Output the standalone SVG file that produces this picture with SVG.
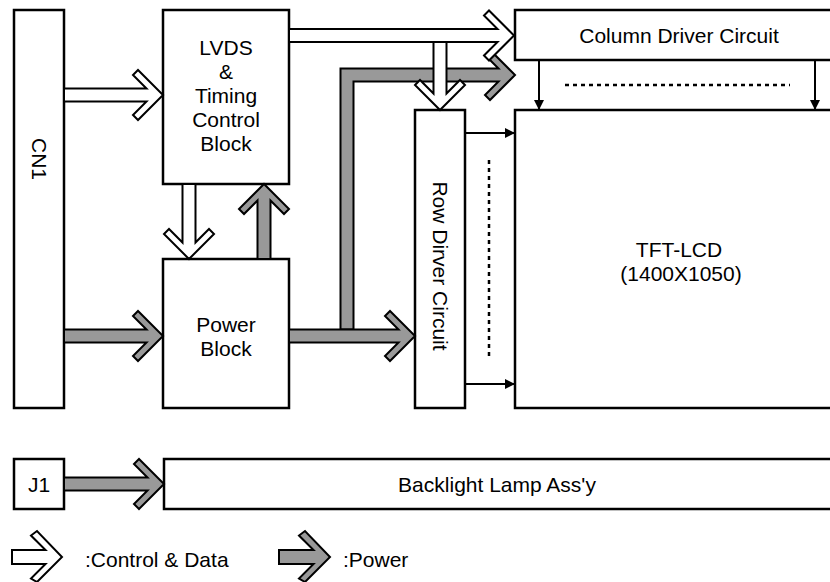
<svg xmlns="http://www.w3.org/2000/svg" width="830" height="582" viewBox="0 0 830 582">
<style>
.box{fill:#fff;stroke:#000;stroke-width:2.5}
.t{font-family:"Liberation Sans",Arial,sans-serif;font-size:21px;fill:#000;text-anchor:middle}
.tl{font-family:"Liberation Sans",Arial,sans-serif;font-size:21px;fill:#000}
.wa{fill:#fff;stroke:#000;stroke-width:2;stroke-linejoin:miter}
.ga{fill:#999;stroke:#000;stroke-width:2;stroke-linejoin:miter}
.thin{stroke:#000;stroke-width:2;fill:none}
.dot{stroke:#000;stroke-width:2.5;fill:none;stroke-dasharray:4 4}
</style>
<defs>
<marker id="ah" markerUnits="userSpaceOnUse" markerWidth="10" markerHeight="10" refX="10" refY="5" orient="auto">
<path d="M0,0 L10,5 L0,10 z" fill="#000"/>
</marker>
</defs>
<rect width="830" height="582" fill="#fff"/>
<g id="cn1"><rect class="box" x="14" y="10" width="50" height="398"/><text class="t" transform="translate(39,159) rotate(90)" y="7.5">CN1</text></g>
<g id="lvds"><rect class="box" x="163" y="10" width="126" height="174"/>
<text class="t" x="226" y="55">LVDS</text><text class="t" x="226" y="79">&amp;</text><text class="t" x="226" y="103">Timing</text><text class="t" x="226" y="127">Control</text><text class="t" x="226" y="151">Block</text></g>
<g id="power"><rect class="box" x="163" y="259" width="126" height="149"/>
<text class="t" x="226" y="332">Power</text><text class="t" x="226" y="356">Block</text></g>
<g id="row"><rect class="box" x="415" y="110" width="50" height="298"/><text class="t" transform="translate(440,266) rotate(90)" y="7.5">Row Dirver Circuit</text></g>
<g id="column"><rect class="box" x="515" y="10" width="330" height="50"/><text class="t" x="679" y="42.5">Column Driver Circuit</text></g>
<g id="tft"><rect class="box" x="515" y="110" width="330" height="298"/><text class="t" x="679" y="257">TFT-LCD</text><text class="t" x="681" y="281">(1400X1050)</text></g>
<g id="j1"><rect class="box" x="14" y="459" width="50" height="50"/><text class="t" x="39" y="491.5">J1</text></g>
<g id="backlight"><rect class="box" x="164" y="459" width="680" height="50"/><text class="t" x="497" y="491.5">Backlight Lamp Ass'y</text></g>
<g id="connectors">
<polygon class="ga" points="340.5,329.5 340.5,68.5 498.5,68.5 485,55 490,50 515,75 490,100 485,95 498.5,81.5 353.5,81.5 353.5,329.5"/>
<polygon class="wa" points="64,88.5 146.5,88.5 133,75 138,70 163,95 138,120 133,115 146.5,101.5 64,101.5"/>
<polygon class="wa" points="289,29 497.5,29 484,15.5 489,10.5 514,35.5 489,60.5 484,55.5 497.5,42 289,42"/>
<polygon class="wa" points="433.5,42 433.5,93.5 420,80 415,85 440,110 465,85 460,80 446.5,93.5 446.5,42"/>
<polygon class="wa" points="182.5,184 182.5,242.5 169,229 164,234 189,259 214,234 209,229 195.5,242.5 195.5,184"/>
<polygon class="ga" points="257.5,259 257.5,200.5 244,214 239,209 264,184 289,209 284,214 270.5,200.5 270.5,259"/>
<polygon class="ga" points="64,329.5 146.5,329.5 133,316 138,311 163,336 138,361 133,356 146.5,342.5 64,342.5"/>
<polygon class="ga" points="289,329.5 398.5,329.5 385,316 390,311 415,336 390,361 385,356 398.5,342.5 289,342.5"/>
<polygon class="ga" points="64,477.5 147.5,477.5 134,464 139,459 164,484 139,509 134,504 147.5,490.5 64,490.5"/>
<line class="thin" x1="539" y1="61" x2="539" y2="110" marker-end="url(#ah)"/>
<line class="thin" x1="815" y1="61" x2="815" y2="110" marker-end="url(#ah)"/>
<line class="thin" x1="466" y1="133" x2="515" y2="133" marker-end="url(#ah)"/>
<line class="thin" x1="466" y1="384" x2="515" y2="384" marker-end="url(#ah)"/>
<line class="dot" x1="565" y1="85" x2="790" y2="85"/>
<line class="dot" x1="489" y1="160" x2="489" y2="358"/>
</g>
<g id="legend">
<polygon class="wa" points="12,550 45.5,550 31,535.5 37,531 62,557 37,582 31,578.5 45.5,564 12,564"/>
<text class="tl" x="85" y="567">:Control &amp; Data</text>
<polygon class="ga" points="279,550 313.5,550 299,535.5 305,531 330,557 305,582 299,578.5 313.5,564 279,564"/>
<text class="tl" x="343" y="567">:Power</text>
</g>
</svg>
